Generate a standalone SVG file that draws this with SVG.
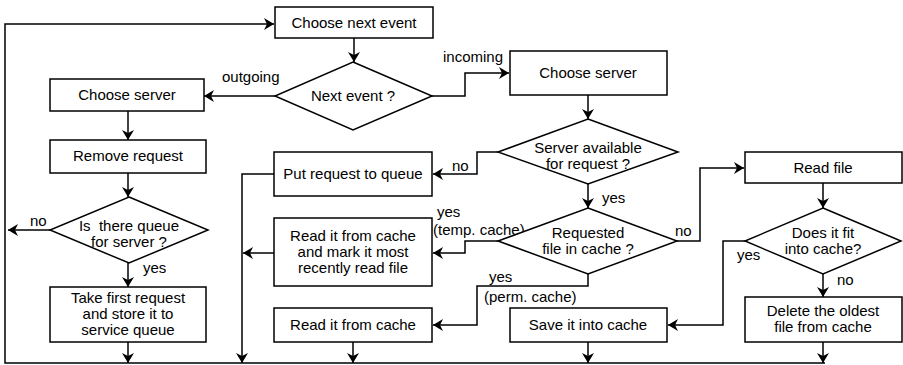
<svg xmlns="http://www.w3.org/2000/svg" width="903" height="365" viewBox="0 0 903 365">
<style>
.box{fill:#fff;stroke:#000;stroke-width:1.5}
.t{font-family:"Liberation Sans",Arial,sans-serif;font-size:15px;fill:#000;text-anchor:middle}
.l{font-family:"Liberation Sans",Arial,sans-serif;font-size:15px;fill:#000;text-anchor:start}
.c{fill:none;stroke:#000;stroke-width:1.5;marker-end:url(#ar)}
.n{fill:none;stroke:#000;stroke-width:1.5}
</style>
<defs>
<marker id="ar" markerUnits="userSpaceOnUse" viewBox="-11 -7 12 14" markerWidth="12" markerHeight="14" refX="0" refY="0" orient="auto">
<path d="M0,0 L-10,-6 L-7,0 L-10,6 Z" fill="#000"/>
</marker>
</defs>
<rect width="903" height="365" fill="#fff"/>
<g id="connectors">
<path class="c" d="M825,363 H5 V24 H274"/>
<path class="c" d="M354,38 V62"/>
<path class="c" d="M275,96 H204"/>
<path class="c" d="M432,96 H465 V73 H509"/>
<path class="c" d="M128,111 V140"/>
<path class="c" d="M128,173 V197"/>
<path class="c" d="M50,230 H8"/>
<path class="c" d="M128,263 V287"/>
<path class="c" d="M128,342 V363"/>
<path class="c" d="M588,95 V119"/>
<path class="c" d="M498,152 H477 V174 H433"/>
<path class="c" d="M588,184 V208"/>
<path class="c" d="M498,241 H465 V253 H433"/>
<path class="c" d="M588,274 V286 H477 V325 H433"/>
<path class="c" d="M677,241 H700 V168 H744"/>
<path class="c" d="M823,183 V208"/>
<path class="c" d="M745,241 H723 V325 H668"/>
<path class="c" d="M823,274 V297"/>
<path class="c" d="M274,174 H242 V363"/>
<path class="c" d="M274,253 H243"/>
<path class="c" d="M353,342 V363"/>
<path class="c" d="M588,342 V363"/>
<path class="c" d="M823,342 V363"/>
<text class="l" x="222" y="82">outgoing</text>
<text class="l" x="443" y="62">incoming</text>
<text class="l" x="30" y="226">no</text>
<text class="l" x="143" y="273">yes</text>
<text class="l" x="452" y="171">no</text>
<text class="l" x="437" y="217">yes</text>
<text class="l" x="433" y="235">(temp. cache)</text>
<text class="l" x="489" y="282">yes</text>
<text class="l" x="484" y="302">(perm. cache)</text>
<text class="l" x="602" y="203">yes</text>
<text class="l" x="675" y="236">no</text>
<text class="l" x="737" y="260">yes</text>
<text class="l" x="837" y="285">no</text>
</g>
<g id="choose-next-event">
<rect class="box" x="275" y="7" width="158" height="31"/>
<text class="t" x="354" y="28">Choose next event</text>
</g>
<g id="next-event">
<polygon class="box" points="353,62 432,96 353,130 275,96"/>
<text class="t" x="353" y="101">Next event ?</text>
</g>
<g id="choose-server-left">
<rect class="box" x="50" y="79" width="154" height="32"/>
<text class="t" x="127" y="100">Choose server</text>
</g>
<g id="choose-server-right">
<rect class="box" x="510" y="51" width="157" height="44"/>
<text class="t" x="588" y="78">Choose server</text>
</g>
<g id="remove-request">
<rect class="box" x="50" y="140" width="156" height="33"/>
<text class="t" x="128" y="161">Remove request</text>
</g>
<g id="queue-for-server">
<polygon class="box" points="129,197 208,230 129,263 50,230"/>
<text class="t" x="129" y="231" style="white-space:pre">Is  there queue</text>
<text class="t" x="129" y="247">for server ?</text>
</g>
<g id="take-first-request">
<rect class="box" x="50" y="287" width="156" height="55"/>
<text class="t" x="128" y="303">Take first request</text>
<text class="t" x="128" y="319">and store it to</text>
<text class="t" x="128" y="335">service queue</text>
</g>
<g id="server-available">
<polygon class="box" points="588,119 678,152 588,184 498,152"/>
<text class="t" x="588" y="153">Server available</text>
<text class="t" x="588" y="169">for request ?</text>
</g>
<g id="put-request-to-queue">
<rect class="box" x="274" y="152" width="158" height="44"/>
<text class="t" x="353" y="179">Put request to queue</text>
</g>
<g id="requested-file">
<polygon class="box" points="588,208 677,241 588,274 498,241"/>
<text class="t" x="588" y="238">Requested</text>
<text class="t" x="588" y="254">file in cache ?</text>
</g>
<g id="read-and-mark">
<rect class="box" x="274" y="218" width="158" height="68"/>
<text class="t" x="353" y="241">Read it from cache</text>
<text class="t" x="353" y="257">and mark it most</text>
<text class="t" x="353" y="273">recently read file</text>
</g>
<g id="read-from-cache">
<rect class="box" x="274" y="308" width="158" height="34"/>
<text class="t" x="353" y="330">Read it from cache</text>
</g>
<g id="read-file">
<rect class="box" x="745" y="152" width="157" height="31"/>
<text class="t" x="823" y="173">Read file</text>
</g>
<g id="fits-into-cache">
<polygon class="box" points="823,208 901,241 823,274 745,241"/>
<text class="t" x="823" y="238">Does it fit</text>
<text class="t" x="823" y="254">into cache?</text>
</g>
<g id="save-into-cache">
<rect class="box" x="510" y="308" width="157" height="34"/>
<text class="t" x="588" y="330">Save it into cache</text>
</g>
<g id="delete-oldest">
<rect class="box" x="745" y="297" width="157" height="45"/>
<text class="t" x="823" y="316">Delete the oldest</text>
<text class="t" x="823" y="332">file from cache</text>
</g>
</svg>
